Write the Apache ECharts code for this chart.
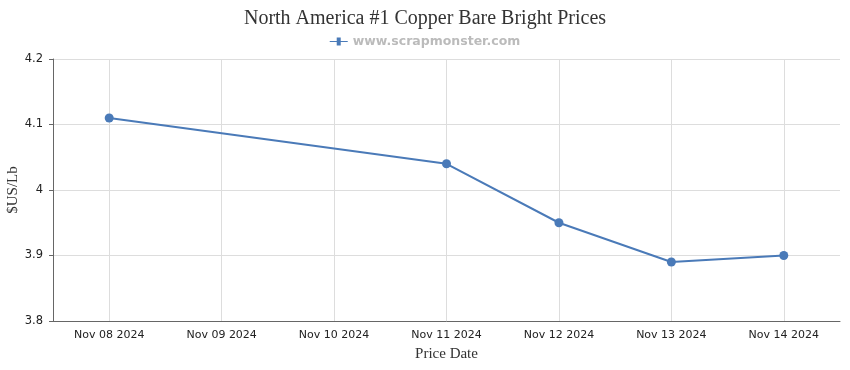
<!DOCTYPE html>
<html><head><meta charset="utf-8">
<script src="https://cdn.jsdelivr.net/npm/echarts@6/dist/echarts.min.js"></script>
<style>html,body{margin:0;padding:0;background:#fff}#c{width:850px;height:370px}</style>
</head><body><div id="c"></div>
<script>
const categories = ['Nov 08 2024','Nov 09 2024','Nov 10 2024','Nov 11 2024','Nov 12 2024','Nov 13 2024','Nov 14 2024'];
const prices = [4.11, null, null, 4.04, 3.95, 3.89, 3.90];
const yTicks = [3.8, 3.9, 4.0, 4.1, 4.2];
const chart = echarts.init(document.getElementById('c'), null, {renderer:'canvas'});
chart.setOption({
  animation:false,
  title:{text:'North America #1 Copper Bare Bright Prices',left:'center',top:4,
    textStyle:{fontFamily:'Liberation Serif',fontSize:20,fontWeight:'normal',color:'#333'}},
  legend:{top:30,left:'center',itemWidth:18,itemHeight:8,
    textStyle:{fontFamily:'DejaVu Sans',fontSize:12.5,fontWeight:'bold',color:'#bbb'},
    data:[{name:'www.scrapmonster.com',icon:'path://M0,3.5h7v-3.5h4v3.5h7v1h-7v3.5h-4v-3.5h-7z'}]},
  grid:{left:53,right:10,top:59,bottom:49,outerBoundsMode:'none',containLabel:false},
  xAxis:{type:'category',data:categories,boundaryGap:true,
    name:'Price Date',nameLocation:'middle',nameGap:26,nameMoveOverlap:false,
    nameTextStyle:{fontFamily:'Liberation Serif',fontSize:15,color:'#333'},
    axisLine:{lineStyle:{color:'#666'}},
    axisTick:{alignWithLabel:true,length:5,lineStyle:{color:'#666'}},
    axisLabel:{fontFamily:'DejaVu Sans',fontSize:11,color:'#222',margin:9},
    splitLine:{show:true,alignWithLabel:true,lineStyle:{color:'#ddd'}}},
  yAxis:{type:'value',min:yTicks[0],max:yTicks[yTicks.length-1],interval:0.1,
    name:'$US/Lb',nameLocation:'middle',nameGap:32,nameMoveOverlap:false,
    nameTextStyle:{fontFamily:'Liberation Serif',fontSize:15,color:'#333'},
    axisLine:{show:true,lineStyle:{color:'#666'}},
    axisTick:{show:true,length:4,lineStyle:{color:'#666'}},
    axisLabel:{fontFamily:'DejaVu Sans',fontSize:11.5,color:'#222',margin:10,
      formatter:v=>String(Math.round(v*10)/10)},
    splitLine:{show:true,lineStyle:{color:'#ddd'}}},
  series:[{name:'www.scrapmonster.com',type:'line',data:prices,connectNulls:true,
    symbol:'circle',symbolSize:9,
    lineStyle:{color:'#4a7ab8',width:2},itemStyle:{color:'#4a7ab8'}}]
});
</script></body></html>
